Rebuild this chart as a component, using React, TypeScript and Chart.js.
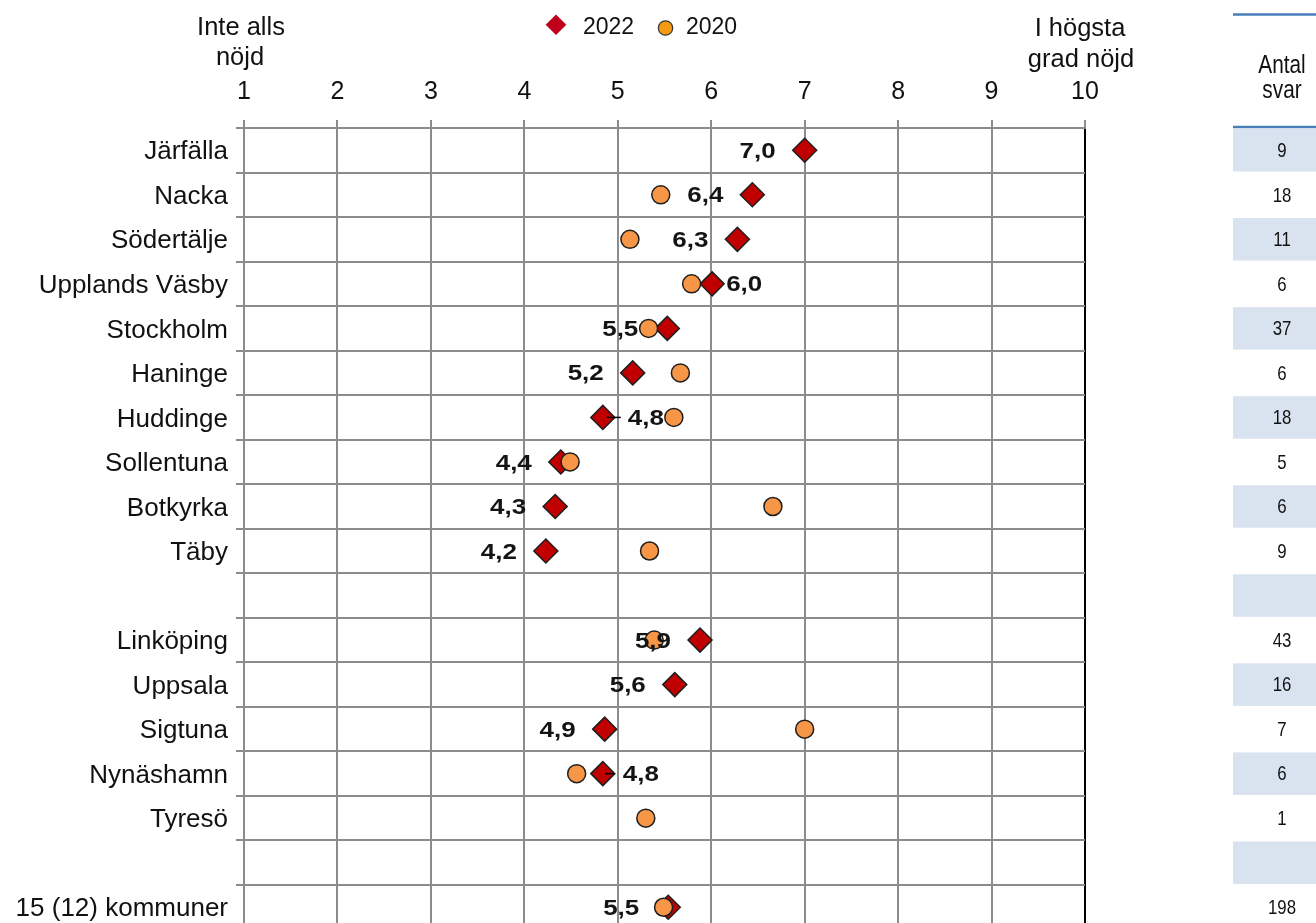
import React, { useEffect, useRef } from 'react';
import { Chart, registerables } from 'chart.js';

Chart.register(...registerables);

// Municipalities, top to bottom; empty strings are spacer rows.
const categories = [
  'Järfälla',
  'Nacka',
  'Södertälje',
  'Upplands Väsby',
  'Stockholm',
  'Haninge',
  'Huddinge',
  'Sollentuna',
  'Botkyrka',
  'Täby',
  '',
  'Linköping',
  'Uppsala',
  'Sigtuna',
  'Nynäshamn',
  'Tyresö',
  '',
  '15 (12) kommuner',
];

// Average satisfaction 2022 (scale 1–10)
const values2022 = [
  7.0, 6.44, 6.28, 6.01, 5.53, 5.16, 4.84, 4.39, 4.33, 4.23,
  null, 5.88, 5.61, 4.86, 4.84, null, null, 5.54,
];

// Average satisfaction 2020 (scale 1–10)
const values2020 = [
  null, 5.46, 5.13, 5.79, 5.33, 5.67, 5.6, 4.49, 6.66, 5.34,
  null, 5.39, null, 7.0, 4.56, 5.3, null, 5.49,
];

// Number of answers per row
const answerCounts = [
  9, 18, 11, 6, 37, 6, 18, 5, 6, 9,
  null, 43, 16, 7, 6, 1, null, 198,
];

const scaleMin = 1;
const scaleMax = 10;

const series2022Label = '2022';
const series2020Label = '2020';
const lowEndCaption = ['Inte alls', 'nöjd'];
const highEndCaption = ['I högsta', 'grad nöjd'];
const countHeader = ['Antal', 'svar'];

// Where each 2022 value label sits relative to its marker
const labelSide = [
  'left', 'left', 'left', 'right', 'left', 'left', 'right', 'left', 'left', 'left',
  null, 'left', 'left', 'left', 'right', null, null, 'left',
];
const rightLabelGap: Record<number, number> = { 3: 14, 6: 25, 14: 20 };
const leaderLines: Record<number, [number, number]> = { 6: [4, 18], 14: [2, 11] };

const FONT = '"Liberation Sans", Arial, Helvetica, sans-serif';
const GRID = '#8c8c8c';
const TEXT = '#111111';

const formatValue = (v: number) => v.toFixed(1).replace('.', ',');

const overlayPlugin = {
  id: 'overlay',
  afterDatasetsDraw(chart: any) {
    const ctx: CanvasRenderingContext2D = chart.ctx;
    const meta = chart.getDatasetMeta(1);

    // value labels for 2022
    ctx.save();
    ctx.fillStyle = '#141414';
    ctx.strokeStyle = '#000';
    ctx.lineWidth = 1.5;
    ctx.textBaseline = 'middle';
    ctx.font = `bold 22px ${FONT}`;
    values2022.forEach((v, i) => {
      if (v == null) return;
      const pt = meta.data[i];
      if (!pt) return;
      const side = labelSide[i];
      const text = formatValue(v);
      const lead = leaderLines[i];
      if (lead) {
        ctx.beginPath();
        ctx.moveTo(pt.x + lead[0], pt.y);
        ctx.lineTo(pt.x + lead[1], pt.y);
        ctx.stroke();
      }
      ctx.save();
      if (side === 'right') {
        ctx.translate(pt.x + (rightLabelGap[i] ?? 14), pt.y + 1.5);
        ctx.textAlign = 'left';
      } else {
        ctx.translate(pt.x - 29, pt.y + 1.5);
        ctx.textAlign = 'right';
      }
      ctx.scale(1.18, 1);
      ctx.fillText(text, 0, 0);
      ctx.restore();
    });
    ctx.restore();
  },
  afterDraw(chart: any) {
    const ctx: CanvasRenderingContext2D = chart.ctx;
    const yScale = chart.scales.y;
    const xScale = chart.scales.x;
    ctx.save();

    // end captions of the scale
    ctx.fillStyle = TEXT;
    ctx.font = `25.5px ${FONT}`;
    ctx.textAlign = 'center';
    ctx.textBaseline = 'alphabetic';
    const xLow = xScale.getPixelForValue(scaleMin);
    const xHigh = xScale.getPixelForValue(scaleMax);
    ctx.fillText(lowEndCaption[0], xLow - 3, 34.5);
    ctx.fillText(lowEndCaption[1], xLow - 4, 65);
    ctx.fillText(highEndCaption[0], xHigh - 5, 36);
    ctx.fillText(highEndCaption[1], xHigh - 4, 66.5);

    // legend
    ctx.fillStyle = '#C0001A';
    ctx.beginPath();
    ctx.moveTo(556, 14.5);
    ctx.lineTo(566.3, 24.8);
    ctx.lineTo(556, 35.1);
    ctx.lineTo(545.7, 24.8);
    ctx.closePath();
    ctx.fill();
    ctx.fillStyle = '#F39A12';
    ctx.strokeStyle = '#333';
    ctx.lineWidth = 1.2;
    ctx.beginPath();
    ctx.arc(665.5, 28, 7.2, 0, Math.PI * 2);
    ctx.fill();
    ctx.stroke();
    ctx.fillStyle = TEXT;
    ctx.font = `23px ${FONT}`;
    ctx.textAlign = 'left';
    ctx.fillText(series2022Label, 583, 34.3);
    ctx.fillText(series2020Label, 686, 34.3);

    // answer count column
    const tableLeft = 1233;
    const tableRight = 1316;
    const tableCenter = 1282;
    const rowH = yScale.getPixelForValue(1) - yScale.getPixelForValue(0);
    ctx.strokeStyle = '#4A7EBB';
    ctx.lineWidth = 2.5;
    ctx.beginPath();
    ctx.moveTo(tableLeft, 14.5);
    ctx.lineTo(tableRight, 14.5);
    ctx.moveTo(tableLeft, 127);
    ctx.lineTo(tableRight, 127);
    ctx.stroke();

    ctx.fillStyle = TEXT;
    ctx.textAlign = 'center';
    ctx.save();
    ctx.translate(tableCenter, 73);
    ctx.scale(0.8, 1);
    ctx.font = `26px ${FONT}`;
    ctx.fillText(countHeader[0], 0, 0);
    ctx.restore();
    ctx.save();
    ctx.translate(tableCenter, 97.5);
    ctx.scale(0.8, 1);
    ctx.font = `26px ${FONT}`;
    ctx.fillText(countHeader[1], 0, 0);
    ctx.restore();

    categories.forEach((_, i) => {
      const cy = yScale.getPixelForValue(i);
      if (i % 2 === 0) {
        ctx.fillStyle = '#D9E3F0';
        ctx.fillRect(tableLeft, cy - rowH / 2 + 1, tableRight - tableLeft, rowH - 2);
      }
      const n = answerCounts[i];
      if (n != null) {
        ctx.save();
        ctx.fillStyle = TEXT;
        ctx.textBaseline = 'middle';
        ctx.textAlign = 'center';
        ctx.font = `21px ${FONT}`;
        ctx.translate(tableCenter, cy + 1);
        ctx.scale(0.8, 1);
        ctx.fillText(String(n), 0, 0);
        ctx.restore();
      }
    });

    ctx.restore();
  },
};

export default function App() {
  const canvasRef = useRef<HTMLCanvasElement | null>(null);

  useEffect(() => {
    document.body.style.margin = '0';
    document.body.style.overflow = 'hidden';
    const canvas = canvasRef.current;
    if (!canvas) return;
    const chart = new Chart(canvas, {
      type: 'line',
      data: {
        labels: categories,
        datasets: [
          {
            label: series2020Label,
            data: values2020 as any,
            showLine: false,
            pointStyle: 'circle',
            pointRadius: 9,
            pointBackgroundColor: '#F79646',
            pointBorderColor: '#1e1e1e',
            pointBorderWidth: 1.5,
            order: 0,
          },
          {
            label: series2022Label,
            data: values2022 as any,
            showLine: false,
            pointStyle: 'rectRot',
            pointRadius: 12,
            pointBackgroundColor: '#C00000',
            pointBorderColor: '#1e1e1e',
            pointBorderWidth: 1.5,
            order: 1,
          },
        ],
      },
      options: {
        indexAxis: 'y',
        animation: false,
        responsive: false,
        devicePixelRatio: 1,
        events: [],
        layout: { padding: { left: 0, right: 231, top: 0, bottom: 6 } },
        plugins: {
          legend: { display: false },
          tooltip: { enabled: false },
        },
        scales: {
          x: {
            type: 'linear',
            position: 'top',
            min: scaleMin,
            max: scaleMax,
            ticks: {
              stepSize: 1,
              color: TEXT,
              padding: 13,
              font: { family: FONT, size: 25 },
            },
            grid: {
              color: (c: any) => (c.tick && c.tick.value === scaleMax ? '#000000' : GRID),
              lineWidth: 2,
              tickLength: 8,
              tickColor: GRID,
            },
            border: { color: GRID, width: 2 },
            afterFit: (s: any) => {
              s.height = 128;
              s.paddingLeft = 0;
              s.paddingRight = 0;
            },
          },
          y: {
            type: 'category',
            offset: true,
            ticks: {
              color: TEXT,
              padding: 8,
              labelOffset: 2,
              autoSkip: false,
              font: { family: FONT, size: 26 },
            },
            grid: {
              offset: true,
              color: GRID,
              lineWidth: 2,
              tickLength: 8,
              tickColor: GRID,
            },
            border: { color: GRID, width: 2 },
            afterFit: (s: any) => {
              s.width = 244;
              s.paddingTop = 0;
              s.paddingBottom = 0;
            },
          },
        },
      },
      plugins: [overlayPlugin],
    } as any);
    return () => chart.destroy();
  }, []);

  return (
    <div style={{ width: 1316, height: 923, overflow: 'hidden', background: '#fff' }}>
      <canvas ref={canvasRef} width={1316} height={943} style={{ display: 'block' }} />
    </div>
  );
}
